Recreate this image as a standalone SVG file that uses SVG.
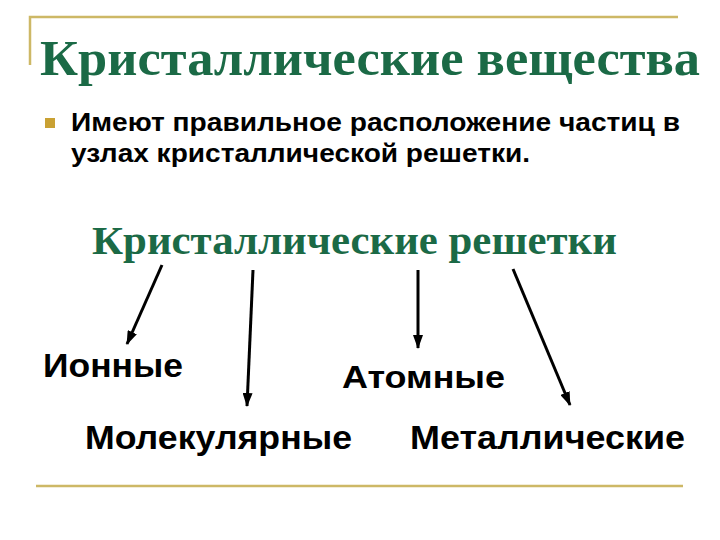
<svg xmlns="http://www.w3.org/2000/svg" width="720" height="540" viewBox="0 0 720 540">
<style>
.title{font-family:"Liberation Serif","Times New Roman",serif;font-weight:bold;fill:#1B6A46;}
.body{font-family:"Liberation Sans",Arial,sans-serif;font-weight:bold;fill:#000;}
.rule{stroke:#CDB866;stroke-width:2.5;fill:none;}
.conn{stroke:#000;stroke-width:3;fill:none;marker-end:url(#ah);}
</style>
<defs>
<marker id="ah" markerUnits="userSpaceOnUse" markerWidth="14" markerHeight="10" refX="13" refY="5" orient="auto">
<path d="M0,0 L14,5 L0,10 z" fill="#000"/>
</marker>
</defs>
<rect width="720" height="540" fill="#fff"/>
<g id="frame">
<path class="rule" d="M30,65 V17 H678"/>
<path class="rule" d="M36,486 H683"/>
</g>
<g id="title">
<text class="title" x="40" y="75" font-size="50" textLength="660" lengthAdjust="spacingAndGlyphs">Кристаллические вещества</text>
</g>
<g id="bullet">
<rect x="45" y="118" width="10" height="10" fill="#C9A133"/>
<text class="body" x="71" y="131" font-size="25" textLength="609" lengthAdjust="spacingAndGlyphs">Имеют правильное расположение частиц в</text>
<text class="body" x="71" y="162" font-size="25" textLength="459" lengthAdjust="spacingAndGlyphs">узлах кристаллической решетки.</text>
</g>
<g id="root">
<text class="title" x="92" y="254" font-size="39" textLength="525" lengthAdjust="spacingAndGlyphs">Кристаллические решетки</text>
</g>
<g id="ionic">
<text class="body" x="43" y="377" font-size="34" textLength="140" lengthAdjust="spacingAndGlyphs">Ионные</text>
</g>
<g id="atomic">
<text class="body" x="342" y="388" font-size="32" textLength="163" lengthAdjust="spacingAndGlyphs">Атомные</text>
</g>
<g id="molecular">
<text class="body" x="85" y="449" font-size="33" textLength="267" lengthAdjust="spacingAndGlyphs">Молекулярные</text>
</g>
<g id="metallic">
<text class="body" x="410" y="449" font-size="33" textLength="275" lengthAdjust="spacingAndGlyphs">Металлические</text>
</g>
<g id="connectors">
<line class="conn" x1="162" y1="265" x2="127" y2="344"/>
<line class="conn" x1="253" y1="270" x2="247" y2="406"/>
<line class="conn" x1="418" y1="270" x2="418" y2="348"/>
<line class="conn" x1="513" y1="269" x2="570" y2="405"/>
</g>
</svg>
